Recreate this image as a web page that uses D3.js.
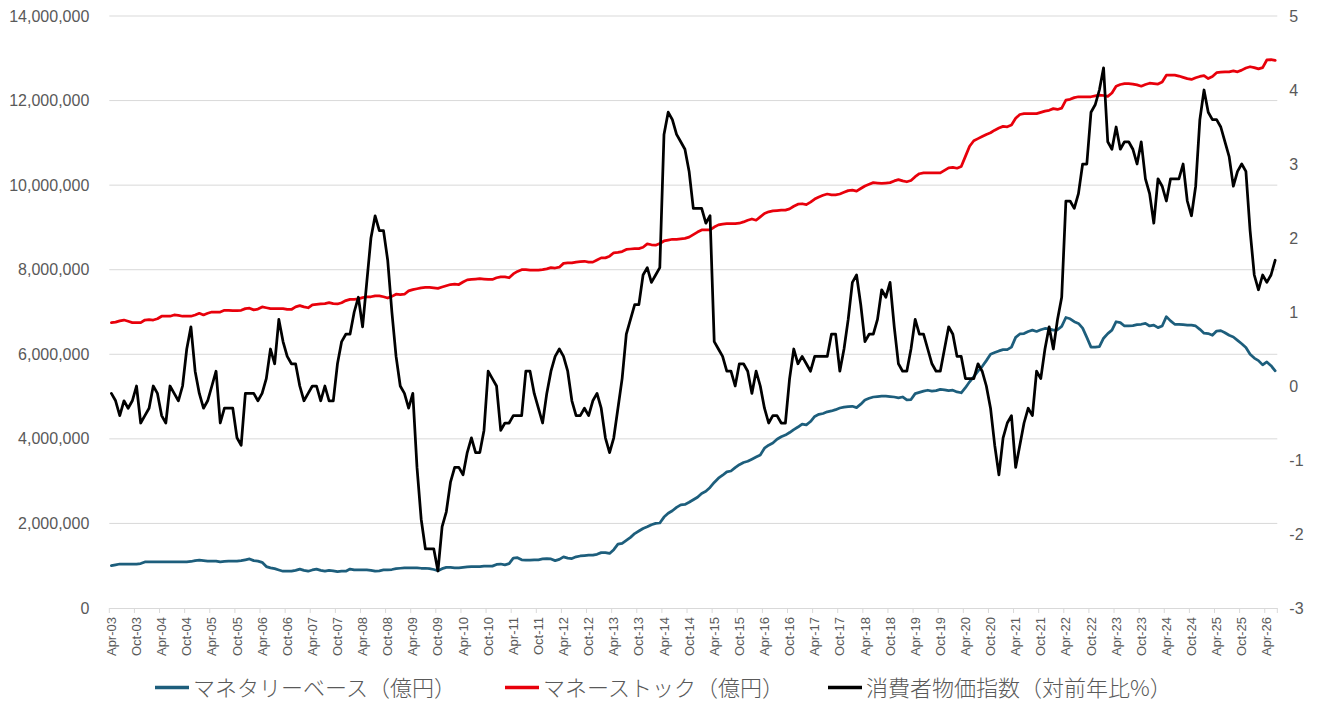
<!DOCTYPE html>
<html>
<head>
<meta charset="utf-8">
<script src="https://cdn.jsdelivr.net/npm/d3@7"></script>
<style>
  body { margin: 0; background: #fff; }
  svg { display: block; }
  .axis text { fill: #595959; font-family: "Liberation Sans", Arial, sans-serif; }
  .legend text { fill: #595959; font-family: "Noto Sans CJK JP", sans-serif; font-weight: 300; }
</style>
</head>
<body>
<div id="chart"></div>
<script>
// monthly categories, Apr-03 .. Jun-26
const monthNames = ['Jan','Feb','Mar','Apr','May','Jun','Jul','Aug','Sep','Oct','Nov','Dec'];
const categories = d3.range(279).map(i => {
  const m = (3 + i) % 12;
  const y = 3 + Math.floor((3 + i) / 12);
  return monthNames[m] + '-' + String(y).padStart(2, '0');
});

const tickLabels = ['Apr-03','Oct-03','Apr-04','Oct-04','Apr-05','Oct-05','Apr-06','Oct-06','Apr-07','Oct-07',
  'Apr-08','Oct-08','Apr-09','Oct-09','Apr-10','Oct-10','Apr-11','Oct-11','Apr-12','Oct-12',
  'Apr-13','Oct-13','Apr-14','Oct-14','Apr-15','Oct-15','Apr-16','Oct-16','Apr-17','Oct-17',
  'Apr-18','Oct-18','Apr-19','Oct-19','Apr-20','Oct-20','Apr-21','Oct-21','Apr-22','Oct-22',
  'Apr-23','Oct-23','Apr-24','Oct-24','Apr-25','Oct-25','Apr-26'];

const leftTicks = [0, 2000000, 4000000, 6000000, 8000000, 10000000, 12000000, 14000000];
const rightTicks = [-3, -2, -1, 0, 1, 2, 3, 4, 5];

const seriesNames = ['マネタリーベース（億円）', 'マネーストック（億円）', '消費者物価指数（対前年比%）'];

// マネタリーベース, 兆円 (x10000 = 億円)
const monetaryBase = [
  100,102,104,104,104,104,104,105,109,109,109,109,109,109,109,109,109,109,109,110,
  112,113,112,111,111,111,109,110,111,111,111,112,114,116,112,111,108,98,95,93,
  90,87,87,87,89,92,89,87,90,92,89,87,89,88,86,87,87,92,90,90,
  90,90,89,87,88,90,90,91,93,94,95,95,95,95,94,94,93,91,88,93,
  96,96,95,95,96,97,98,98,98,99,99,99,103,104,102,105,118,119,114,113,
  113,114,114,116,117,116,112,115,121,118,117,121,123,124,125,125,127,131,131,129,
  138,151,153,160,167,176,182,188,192,197,200,201,215,224,230,238,244,245,250,256,
  262,271,276,285,297,307,314,322,324,332,339,344,347,352,357,362,378,385,390,399,
  405,409,415,422,428,435,433,441,453,458,460,464,466,469,473,475,476,477,474,482,
  492,496,499,500,501,501,500,499,497,499,492,493,507,510,513,515,513,514,517,516,
  514,515,511,509,521,535,547,560,571,585,600,604,608,611,611,617,640,648,649,654,
  657,654,658,661,660,657,658,666,687,684,677,673,662,640,617,617,618,638,649,657,
  677,675,667,667,668,670,671,673,667,669,663,667,689,679,671,671,670,669,669,667,
  659,650,649,645,655,656,651,645,641,633,625,616,600,591,585,575,582,573,561
];

// マネーストック, 兆円
const moneyStock = [
  675,676,679,681,678,675,675,675,681,682,681,684,690,690,690,693,692,690,690,690,
  693,697,693,697,700,700,700,704,704,703,703,704,708,709,705,707,712,710,708,708,
  708,708,706,706,712,715,712,710,717,718,719,720,722,720,719,722,727,730,730,731,
  734,736,736,738,738,736,733,737,742,741,742,750,753,755,757,758,758,757,756,759,
  762,765,766,765,771,776,777,778,779,778,777,777,781,783,783,781,790,796,800,800,
  799,799,799,800,802,805,804,806,815,816,816,818,819,820,818,818,823,828,828,832,
  840,841,843,848,849,850,850,853,861,859,858,862,868,870,872,872,873,874,877,883,
  889,894,894,894,901,906,908,909,909,909,910,913,917,920,917,925,933,937,939,940,
  941,941,944,950,955,956,954,960,967,972,976,979,977,977,979,983,987,988,986,992,
  998,1002,1006,1005,1004,1005,1006,1010,1013,1010,1008,1011,1020,1027,1029,1029,1029,1029,1029,1035,
  1041,1042,1040,1044,1068,1092,1105,1110,1115,1120,1124,1130,1135,1139,1138,1142,1158,1167,1169,1169,
  1169,1169,1172,1175,1177,1181,1179,1182,1201,1203,1207,1209,1209,1209,1209,1211,1213,1212,1210,1218,
  1234,1238,1240,1240,1239,1237,1234,1238,1241,1240,1239,1244,1260,1260,1260,1258,1255,1252,1250,1254,
  1257,1259,1252,1257,1266,1267,1268,1268,1270,1268,1272,1277,1280,1278,1275,1278,1296,1297,1295
];

// 消費者物価指数 前年比 %
const cpi = [
  -0.1,-0.2,-0.4,-0.2,-0.3,-0.2,0.0,-0.5,-0.4,-0.3,0.0,-0.1,-0.4,-0.5,0.0,-0.1,-0.2,0.0,0.5,0.8,
  0.2,-0.1,-0.3,-0.2,0.0,0.2,-0.5,-0.3,-0.3,-0.3,-0.7,-0.8,-0.1,-0.1,-0.1,-0.2,-0.1,0.1,0.5,0.3,
  0.9,0.6,0.4,0.3,0.3,0.0,-0.2,-0.1,0.0,0.0,-0.2,0.0,-0.2,-0.2,0.3,0.6,0.7,0.7,1.0,1.2,
  0.8,1.4,2.0,2.3,2.1,2.1,1.7,1.0,0.4,0.0,-0.1,-0.3,-0.1,-1.1,-1.8,-2.2,-2.2,-2.2,-2.5,-1.9,
  -1.7,-1.3,-1.1,-1.1,-1.2,-0.9,-0.7,-0.9,-0.9,-0.6,0.2,0.1,0.0,-0.6,-0.5,-0.5,-0.4,-0.4,-0.4,0.2,
  0.2,-0.1,-0.3,-0.5,-0.1,0.2,0.4,0.5,0.4,0.2,-0.2,-0.4,-0.4,-0.3,-0.4,-0.2,-0.1,-0.3,-0.7,-0.9,
  -0.7,-0.3,0.1,0.7,0.9,1.1,1.1,1.5,1.6,1.4,1.5,1.6,3.4,3.7,3.6,3.4,3.3,3.2,2.9,2.4,
  2.4,2.4,2.2,2.3,0.6,0.5,0.4,0.2,0.2,0.0,0.3,0.3,0.2,-0.1,0.2,0.0,-0.3,-0.5,-0.4,-0.4,
  -0.5,-0.5,0.1,0.5,0.3,0.4,0.3,0.2,0.4,0.4,0.4,0.4,0.7,0.7,0.2,0.5,0.9,1.4,1.5,1.1,
  0.6,0.7,0.7,0.9,1.3,1.2,1.4,0.8,0.3,0.2,0.2,0.5,0.9,0.7,0.7,0.5,0.3,0.2,0.2,0.5,
  0.8,0.7,0.4,0.4,0.1,0.1,0.1,0.3,0.2,0.0,-0.3,-0.8,-1.2,-0.7,-0.5,-0.4,-1.1,-0.8,-0.5,-0.3,
  -0.4,0.2,0.1,0.5,0.8,0.5,0.9,1.2,2.5,2.5,2.4,2.6,3.0,3.0,3.7,3.8,4.0,4.3,3.3,3.2,
  3.5,3.2,3.3,3.3,3.2,3.0,3.3,2.8,2.6,2.2,2.8,2.7,2.5,2.8,2.8,2.8,3.0,2.5,2.3,2.7,
  3.6,4.0,3.7,3.6,3.6,3.5,3.3,3.1,2.7,2.9,3.0,2.9,2.1,1.5,1.3,1.5,1.4,1.5,1.7
];

const colors = ['#1d5e7c', '#e8000b', '#000000'];

const W = 1319, H = 709;
const margin = { left: 109.3, right: W - 1277.3, top: 16, bottom: H - 608 };

const svg = d3.select('#chart').append('svg')
  .attr('width', W)
  .attr('height', H);

svg.append('rect').attr('width', W).attr('height', H).attr('fill', '#fff');

const x = d3.scaleBand()
  .domain(categories)
  .range([margin.left, W - margin.right])
  .paddingInner(0).paddingOuter(0);

const yL = d3.scaleLinear().domain([0, 14000000]).range([H - margin.bottom, margin.top]);
const yR = d3.scaleLinear().domain([-3, 5]).range([H - margin.bottom, margin.top]);

const cx = d => x(d) + x.bandwidth() / 2;

// gridlines
svg.append('g')
  .selectAll('line')
  .data(leftTicks.slice(1))
  .enter().append('line')
  .attr('x1', margin.left).attr('x2', W - margin.right)
  .attr('y1', d => yL(d)).attr('y2', d => yL(d))
  .attr('stroke', '#d9d9d9').attr('stroke-width', 1);

// left axis
const gL = svg.append('g').attr('class', 'axis')
  .attr('transform', `translate(${margin.left},0)`)
  .call(d3.axisLeft(yL).tickValues(leftTicks).tickFormat(d3.format(',')).tickSize(0).tickPadding(20));
gL.select('.domain').remove();
gL.selectAll('text').style('font-size', '16px');

// right axis (plain hyphen for negatives, like the original)
const gR = svg.append('g').attr('class', 'axis')
  .attr('transform', `translate(${W - margin.right},0)`)
  .call(d3.axisRight(yR).tickValues(rightTicks).tickFormat(d => String(d)).tickSize(0).tickPadding(12));
gR.select('.domain').remove();
gR.selectAll('text').style('font-size', '16px');

// bottom axis
const gB = svg.append('g').attr('class', 'axis')
  .attr('transform', `translate(0,${H - margin.bottom})`)
  .call(d3.axisBottom(x).tickValues(tickLabels).tickSize(0).tickPadding(0));
gB.select('.domain').remove();
gB.selectAll('text')
  .style('font-size', '13px')
  .attr('transform', 'rotate(-90)')
  .attr('x', -9)
  .attr('y', 0)
  .attr('dy', '0.35em')
  .style('text-anchor', 'end');

gB.append('line')
  .attr('x1', margin.left).attr('x2', W - margin.right)
  .attr('y1', 0.5).attr('y2', 0.5)
  .attr('stroke', '#d9d9d9').attr('stroke-width', 1);

// tick marks between categories, every 6 months
const tickCats = categories.filter((d, i) => i % 6 === 0);
gB.selectAll('.tickmark')
  .data(tickCats)
  .enter().append('line')
  .attr('class', 'tickmark')
  .attr('x1', d => x(d)).attr('x2', d => x(d))
  .attr('y1', 0).attr('y2', 5)
  .attr('stroke', '#d9d9d9').attr('stroke-width', 1);
gB.append('line')
  .attr('x1', W - margin.right).attr('x2', W - margin.right)
  .attr('y1', 0).attr('y2', 5)
  .attr('stroke', '#d9d9d9').attr('stroke-width', 1);

// lines
const lineL = d3.line()
  .x((d, i) => cx(categories[i]))
  .y(d => yL(d * 10000));
const lineR = d3.line()
  .x((d, i) => cx(categories[i]))
  .y(d => yR(d));

svg.append('path').datum(monetaryBase)
  .attr('d', lineL).attr('fill', 'none')
  .attr('stroke', colors[0]).attr('stroke-width', 2.75)
  .attr('stroke-linejoin', 'round').attr('stroke-linecap', 'round');

svg.append('path').datum(moneyStock)
  .attr('d', lineL).attr('fill', 'none')
  .attr('stroke', colors[1]).attr('stroke-width', 2.75)
  .attr('stroke-linejoin', 'round').attr('stroke-linecap', 'round');

svg.append('path').datum(cpi)
  .attr('d', lineR).attr('fill', 'none')
  .attr('stroke', colors[2]).attr('stroke-width', 2.75)
  .attr('stroke-linejoin', 'round').attr('stroke-linecap', 'round');

// legend
const legendX = [155, 505, 828];
const legend = svg.append('g').attr('class', 'legend');
seriesNames.forEach((name, i) => {
  legend.append('line')
    .attr('x1', legendX[i]).attr('x2', legendX[i] + 34)
    .attr('y1', 687.5).attr('y2', 687.5)
    .attr('stroke', colors[i]).attr('stroke-width', 3.3);
  legend.append('text')
    .attr('x', legendX[i] + 38)
    .attr('y', 688)
    .attr('dy', '0.36em')
    .style('font-size', '22px')
    .text(name);
});
</script>
</body>
</html>
